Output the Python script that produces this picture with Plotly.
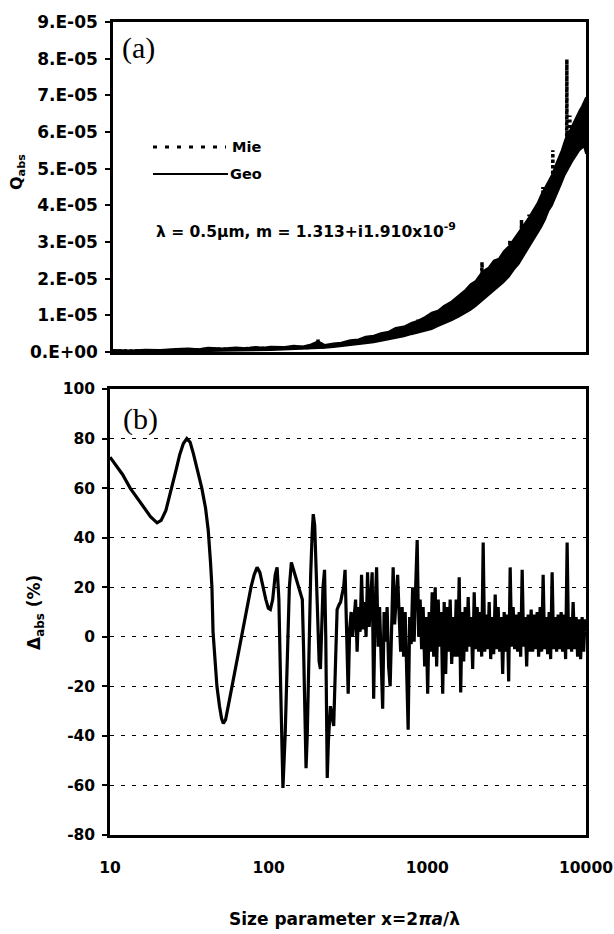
import plotly.graph_objects as go

# ---------------- data ----------------
# Panel (a): Q_abs, Geo band envelope (upper / lower edges of the thick Geo trace)
geo_x = [10, 13, 16, 20, 25, 30, 35, 40, 50, 60, 70, 80, 90, 100, 120, 140, 160, 180, 200, 220,
         250, 280, 320, 360, 400, 450, 500, 560, 620, 700, 780, 860, 950, 1050, 1150, 1250, 1400,
         1550, 1700, 1850, 2000, 2200, 2400, 2600, 2800, 3000, 3250, 3500, 3750, 4000, 4300, 4600,
         4900, 5200, 5500, 5800, 6100, 6400, 6700, 7000, 7300, 7600, 7900, 8200, 8500, 8800, 9100,
         9400, 9700, 10000]
geo_upper = [0.06e-5, 0.05e-5, 0.07e-5, 0.06e-5, 0.09e-5, 0.10e-5, 0.08e-5, 0.12e-5, 0.10e-5, 0.13e-5,
             0.11e-5, 0.14e-5, 0.12e-5, 0.15e-5, 0.14e-5, 0.18e-5, 0.16e-5, 0.21e-5, 0.30e-5, 0.20e-5,
             0.24e-5, 0.26e-5, 0.33e-5, 0.35e-5, 0.42e-5, 0.45e-5, 0.52e-5, 0.56e-5, 0.66e-5, 0.70e-5,
             0.80e-5, 0.86e-5, 0.96e-5, 1.08e-5, 1.13e-5, 1.26e-5, 1.38e-5, 1.55e-5, 1.68e-5, 1.85e-5,
             1.95e-5, 2.20e-5, 2.30e-5, 2.50e-5, 2.55e-5, 2.75e-5, 2.90e-5, 3.10e-5, 3.30e-5, 3.45e-5,
             3.65e-5, 3.85e-5, 4.05e-5, 4.30e-5, 4.50e-5, 4.70e-5, 4.85e-5, 5.10e-5, 5.30e-5, 5.50e-5,
             5.75e-5, 5.95e-5, 6.05e-5, 6.20e-5, 6.35e-5, 6.45e-5, 6.60e-5, 6.70e-5, 6.85e-5, 6.95e-5]
geo_lower = [0.0, 0.0, 0.01e-5, 0.01e-5, 0.01e-5, 0.02e-5, 0.02e-5, 0.02e-5, 0.03e-5, 0.03e-5,
             0.04e-5, 0.04e-5, 0.05e-5, 0.05e-5, 0.06e-5, 0.07e-5, 0.08e-5, 0.09e-5, 0.10e-5, 0.11e-5,
             0.13e-5, 0.15e-5, 0.18e-5, 0.20e-5, 0.23e-5, 0.26e-5, 0.30e-5, 0.33e-5, 0.37e-5, 0.42e-5,
             0.48e-5, 0.53e-5, 0.58e-5, 0.62e-5, 0.70e-5, 0.76e-5, 0.86e-5, 0.95e-5, 1.05e-5, 1.14e-5,
             1.25e-5, 1.40e-5, 1.55e-5, 1.68e-5, 1.78e-5, 1.90e-5, 2.05e-5, 2.25e-5, 2.40e-5, 2.60e-5,
             2.80e-5, 3.00e-5, 3.20e-5, 3.40e-5, 3.60e-5, 3.85e-5, 4.00e-5, 4.20e-5, 4.40e-5, 4.60e-5,
             4.80e-5, 4.95e-5, 5.10e-5, 5.20e-5, 5.30e-5, 5.40e-5, 5.50e-5, 5.55e-5, 5.60e-5, 5.40e-5]

# Panel (a): Mie (dotted), visible where it spikes above the Geo band
mie_x = [10, 20, 40, 80, 150, 195, 200, 205, 300, 500, 850, 860, 870, 1200, 1600, 2170, 2190, 2210,
         2700, 3270, 3290, 3310, 3880, 3900, 3920, 4330, 4350, 4370, 4900, 5310, 5330, 5350, 5800,
         6140, 6160, 6180, 6800, 7540, 7560, 7580, 7880, 7900, 7920, 8600, 9300, 10000]
mie_q = [0.03e-5, 0.03e-5, 0.07e-5, 0.09e-5, 0.12e-5, 0.13e-5, 0.33e-5, 0.13e-5, 0.22e-5, 0.40e-5,
         0.70e-5, 0.88e-5, 0.70e-5, 0.95e-5, 1.25e-5, 1.70e-5, 2.45e-5, 1.70e-5, 2.10e-5, 2.40e-5,
         3.05e-5, 2.40e-5, 2.90e-5, 3.60e-5, 2.90e-5, 3.20e-5, 3.75e-5, 3.20e-5, 3.60e-5, 3.90e-5,
         4.50e-5, 3.90e-5, 4.30e-5, 4.40e-5, 5.50e-5, 4.40e-5, 4.85e-5, 5.40e-5, 7.98e-5, 5.40e-5,
         5.60e-5, 6.45e-5, 5.60e-5, 5.85e-5, 6.10e-5, 6.20e-5]

q_tickvals = [0, 1e-5, 2e-5, 3e-5, 4e-5, 5e-5, 6e-5, 7e-5, 8e-5, 9e-5]
q_ticktext = ["0.E+00", "1.E-05", "2.E-05", "3.E-05", "4.E-05", "5.E-05", "6.E-05", "7.E-05",
              "8.E-05", "9.E-05"]

# Panel (b): Delta_abs (%) vs size parameter
delta_x = [10, 11, 12, 13.4, 15, 16.5, 18, 19.8, 21, 22.5,
           23.5, 24.5, 26, 27.5, 29, 30.5, 32, 33.5, 35.5, 37.9,
           40, 41.6, 43, 43.9, 44.6, 46, 47.2, 49, 50.5, 51.8,
           53.5, 56, 58.7, 63, 67.9, 72.5, 77.4, 81, 84.5, 88,
           92, 96, 99.5, 102.5, 106, 110, 113, 116, 119, 123,
           127, 131, 135, 139, 145, 152, 158, 163, 166, 169,
           172, 175, 179, 184, 188, 191, 195, 199, 204, 208,
           212, 216, 220, 225, 229, 234, 238, 245, 251, 257,
           264, 270,
           278, 284, 290, 297, 303, 310, 317, 324, 331, 338,
           346, 353, 361, 369, 377, 385, 394, 402, 411, 420,
           430, 439, 449, 459, 469, 479, 490, 500, 511, 523,
           534, 546, 558, 570, 583, 596, 609, 622, 636, 650,
           664, 679, 694, 709, 725, 741, 757, 774, 791, 808,
           826, 844, 863, 882, 901, 921, 941, 962, 983, 1005,
           1027, 1050, 1073, 1097, 1121, 1145, 1171, 1196, 1223, 1250,
           1277, 1305, 1334, 1363, 1393, 1424, 1455, 1487, 1520, 1553,
           1588, 1623, 1658, 1695, 1732, 1770, 1809, 1849, 1890, 1931,
           1974, 2017, 2062, 2107, 2153, 2201, 2249, 2299, 2349, 2401,
           2454, 2508, 2563, 2619, 2677, 2736, 2796, 2857, 2920, 2984,
           3050, 3117, 3186, 3256, 3327, 3400, 3475, 3552, 3630, 3710,
           3791, 3875, 3960, 4047, 4136, 4227, 4320, 4415, 4512, 4611,
           4713, 4816, 4922, 5030, 5141, 5254, 5369, 5487, 5608, 5731,
           5857, 5986, 6117, 6252, 6389, 6530, 6673, 6820, 6970, 7123,
           7280, 7440, 7604, 7771, 7942, 8117, 8295, 8478, 8664, 8855,
           9049, 9248, 9452, 9660, 9872, 10000]
delta_pct = [72.5, 69, 65.5, 60, 55.5, 51.5, 48.5, 46, 47, 51,
             55.5, 60, 67, 73.5, 78, 80, 78.5, 74, 67, 60,
             52, 43, 30, 20, 2, -12, -20, -28, -33, -35,
             -33.5, -27, -20, -10, 0, 10, 20, 25, 28, 26,
             20, 15, 11.5, 11, 15, 25, 28, 15, -20, -61,
             -40, -5, 20, 30, 26, 22, 19, 15, -5, -35,
             -53, -40, -5, 25, 42, 49.5, 45, 25, 0, -10,
             -13, 0, 20, 27, 0, -57, -42, -28, -32, -36,
             -10, 11,
             13, 14, 17, 20, 27, 5, -23, 3, 10, 0,
             7, 15, -6, 12, 2, 25, 3, 14, 0, 26,
             4, 18, 26, -25, 12, 28, -4, 12, -8, -29,
             10, -2, 12, -12, -20, 10, 28, 5, 15, 25,
             9, -6, 12, -8, 10, -10, -37.5, 8, -3, 20,
             -2, 20, 39, 0, 15, -5, 12, -12, 8, -23,
             10, -6, 18, -8, 20, -12, 15, -4, 10, -23,
             14, -15, 12, -6, 15, -11, 8, -8, 15, -8,
             24, -22.5, 10, -10, 12, -6, 16, -4, 8, -13,
             18, -5, 12, -6, 10, -8, 38, -6, 9, -5,
             14, -9, 8, -7, 17, -5, 12, -6, 8, -15,
             10, -6, 9, -18, 28, -4, 12, -5, 9, -6,
             10, -8, 27, -4, 8, -12, 9, -6, 11, -6,
             9, -5, 10, -8, 12, -6, 25, -5, 8, -7,
             10, -9, 26, -5, 8, -6, 9, -5, 10, -6,
             9, -9, 38, -5, 8, -6, 14, -5, 8, -8,
             7, -9, 8, -6, 7, 2]

x_tickvals = [10, 100, 1000, 10000]
x_ticktext = ["10", "100", "1000", "10000"]
d_tickvals = [100, 80, 60, 40, 20, 0, -20, -40, -60, -80]
d_ticktext = ["100", "80", "60", "40", "20", "0", "-20", "-40", "-60", "-80"]

assert len(delta_x) == len(delta_pct)
assert len(geo_x) == len(geo_upper) == len(geo_lower)
assert len(mie_x) == len(mie_q)

# ---------------- figure ----------------
W, H = 614, 934
FONT = "DejaVu Sans"
BLACK = "#000000"

fig = go.Figure()

# Panel (a)
fig.add_trace(go.Scatter(x=geo_x, y=geo_lower, mode="lines", line=dict(color=BLACK, width=1.5),
                         xaxis="x2", yaxis="y2", showlegend=False, hoverinfo="skip"))
fig.add_trace(go.Scatter(x=geo_x, y=geo_upper, mode="lines", line=dict(color=BLACK, width=1.5),
                         fill="tonexty", fillcolor=BLACK, name="Geo",
                         xaxis="x2", yaxis="y2", showlegend=False))
fig.add_trace(go.Scatter(x=mie_x, y=mie_q, mode="lines", line=dict(color=BLACK, width=3.5, dash="3px,2.5px"),
                         name="Mie", xaxis="x2", yaxis="y2", showlegend=False))

# Panel (b)
fig.add_trace(go.Scatter(x=delta_x, y=delta_pct, mode="lines", line=dict(color=BLACK, width=3.2),
                         xaxis="x", yaxis="y", showlegend=False))

def px_x(p):
    return p / W

def px_y(p):
    return 1 - p / H

tickfont_b = dict(family=FONT, size=15.5, color=BLACK, weight="bold")

fig.update_layout(
    width=W, height=H,
    margin=dict(l=0, r=0, t=0, b=0, autoexpand=False),
    paper_bgcolor="white", plot_bgcolor="white",
    showlegend=False,
    # bottom panel
    xaxis=dict(type="log", range=[1, 4], domain=[px_x(110), px_x(586)], automargin=False,
               tickvals=x_tickvals, ticktext=x_ticktext,
               tickfont=dict(family=FONT, size=15.5, color=BLACK, weight="bold"),
               ticks="", ticklabelstandoff=17, ticklabeloverflow="allow",
               showline=True, mirror=True, linecolor=BLACK, linewidth=2.5,
               showgrid=False, zeroline=False, anchor="y"),
    yaxis=dict(range=[-80, 100], domain=[px_y(835), px_y(389)], automargin=False,
               tickvals=d_tickvals, ticktext=d_ticktext, tickfont=tickfont_b,
               ticks="outside", ticklen=5,
               tickcolor=BLACK, tickwidth=1.5, ticklabelstandoff=4, ticklabeloverflow="allow",
               showline=True, mirror=True, linecolor=BLACK, linewidth=2.5,
               showgrid=True, gridcolor=BLACK, gridwidth=1, griddash="4px,7px",
               zeroline=False, anchor="x"),
    # top panel
    xaxis2=dict(type="log", range=[1, 4], domain=[px_x(113), px_x(586)], automargin=False,
                showticklabels=False, ticks="",
                showline=True, mirror=True, linecolor=BLACK, linewidth=2.5,
                showgrid=False, zeroline=False, anchor="y2"),
    yaxis2=dict(range=[0, 9e-5], domain=[px_y(352), px_y(22)], automargin=False,
                tickvals=q_tickvals, ticktext=q_ticktext, ticklabeloverflow="allow",
                tickfont=dict(family=FONT, size=17, color=BLACK, weight="bold"),
                ticks="outside", ticklen=5, tickcolor=BLACK, tickwidth=1.5, ticklabelstandoff=4,
                showline=True, mirror=True, linecolor=BLACK, linewidth=2.5,
                showgrid=False, zeroline=False, anchor="x2"),
)

annots = [
    dict(text="(a)", x=px_x(138), y=px_y(48), font=dict(family="Liberation Serif", size=30, color=BLACK)),
    dict(text="(b)", x=px_x(140), y=px_y(419), font=dict(family="Liberation Serif", size=30, color=BLACK)),
    dict(text="λ = 0.5μm, m = 1.313+i1.910x10<sup>-9</sup>", x=px_x(306), y=px_y(231),
         font=dict(family=FONT, size=15.5, color=BLACK, weight="bold")),
    dict(text="Mie", x=px_x(230), y=px_y(147), xanchor="left",
         font=dict(family=FONT, size=14.5, color=BLACK, weight="bold")),
    dict(text="Geo", x=px_x(228), y=px_y(174), xanchor="left",
         font=dict(family=FONT, size=14.5, color=BLACK, weight="bold")),
    dict(text="Q<sub>abs</sub>", x=px_x(17), y=px_y(172), textangle=-90,
         font=dict(family=FONT, size=16, color=BLACK, weight="bold")),
    dict(text="Δ<sub>abs</sub> (%)", x=px_x(35), y=px_y(613), textangle=-90,
         font=dict(family=FONT, size=17, color=BLACK, weight="bold")),
    dict(text="Size parameter x=2<i>πa</i>/λ", x=px_x(344), y=px_y(919),
         font=dict(family=FONT, size=17, color=BLACK, weight="bold")),
]
for a in annots:
    a.setdefault("xanchor", "center")
    a.update(xref="paper", yref="paper", showarrow=False, yanchor="middle")
    fig.add_annotation(**a)

# legend line samples
fig.add_shape(type="line", xref="paper", yref="paper", x0=px_x(153), x1=px_x(226),
              y0=px_y(147), y1=px_y(147), line=dict(color=BLACK, width=3, dash="4px,8px"))
fig.add_shape(type="line", xref="paper", yref="paper", x0=px_x(153), x1=px_x(228),
              y0=px_y(174), y1=px_y(174), line=dict(color=BLACK, width=2))

fig.write_html("out.html")
